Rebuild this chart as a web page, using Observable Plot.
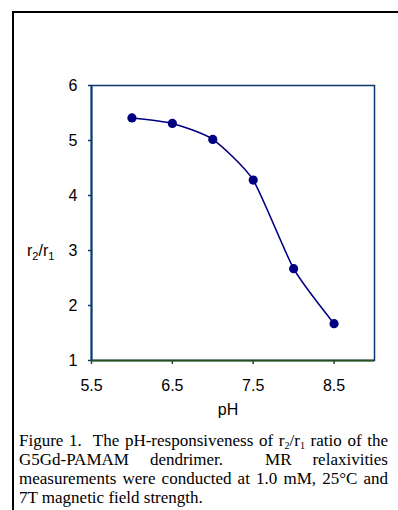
<!DOCTYPE html>
<html>
<head>
<meta charset="utf-8">
<script src="https://cdn.jsdelivr.net/npm/d3@7"></script>
<script src="https://cdn.jsdelivr.net/npm/@observablehq/plot@0.6"></script>
<style>
  html, body { margin: 0; padding: 0; background: #fff; }
  #page { position: relative; width: 398px; height: 510px; overflow: hidden; }
  #border { position: absolute; left: 12px; top: 11px; width: 400px; height: 520px;
            border-top: 2px solid #000; border-left: 2px solid #000; box-sizing: border-box; }
  #chart { position: absolute; left: 0; top: 0; }
  #caption { position: absolute; left: 19px; top: 431px; width: 369px;
             font-family: "Liberation Serif", "Times New Roman", serif; font-size: 17px;
             line-height: 19px; color: #000; }
  #caption .j { text-align: justify; text-align-last: justify; white-space: nowrap; }
  #caption sub { font-size: 10px; line-height: 0; vertical-align: -3px; }
</style>
</head>
<body>
<div id="page">
  <div id="border"></div>
  <div id="chart"></div>
  <div id="caption">
    <div class="j">Figure 1.&nbsp; The pH-responsiveness of r<sub>2</sub>/r<sub>1</sub> ratio of the</div>
    <div class="j">G5Gd-PAMAM dendrimer.&nbsp; MR relaxivities</div>
    <div class="j">measurements were conducted at 1.0 mM, 25°C and</div>
    <div>7T magnetic field strength.</div>
  </div>
</div>
<script>
const pH = [6.0, 6.5, 7.0, 7.5, 8.0, 8.5];
const ratio = [5.41, 5.31, 5.02, 4.28, 2.67, 1.67];
const xTicks = [5.5, 6.5, 7.5, 8.5];
const yTicks = [1, 2, 3, 4, 5, 6];

const data = pH.map((p, i) => ({pH: p, r: ratio[i]}));
const navy = "#000080";
const axisBlue = "#0b3a6e";
const axisGreen = "#27501f";

const chart = Plot.plot({
  width: 398,
  height: 420,
  marginLeft: 91,
  marginRight: 24,
  marginTop: 85,
  marginBottom: 60,
  style: {fontFamily: "'Liberation Sans', Arial, sans-serif", fontSize: "16px", color: "#000", background: "transparent"},
  x: {domain: [5.5, 9], label: null},
  y: {domain: [1, 6], label: null},
  marks: [
    Plot.frame({stroke: axisBlue, strokeWidth: 1.5}),
    Plot.axisX(xTicks, {tickSize: 4, tickPadding: 15, stroke: axisGreen, strokeWidth: 1.5, fill: "#000", fontSize: 16, label: null, tickFormat: d3.format(".1f")}),
    Plot.axisY(yTicks, {tickSize: 3, tickPadding: 11, stroke: axisBlue, strokeWidth: 1.5, fill: "#000", fontSize: 16, label: null, tickFormat: d3.format("d")}),
    Plot.ruleX([5.5], {stroke: axisBlue, strokeWidth: 2}),
    Plot.ruleY([1], {stroke: axisGreen, strokeWidth: 2}),
    Plot.line(data, {x: "pH", y: "r", stroke: navy, strokeWidth: 1.6, curve: d3.curveCardinal.tension(0.4)}),
    Plot.dot(data, {x: "pH", y: "r", r: 4.6, fill: navy, stroke: "none"}),
    Plot.text(["pH"], {frameAnchor: "bottom", dx: -5, dy: 54, fontSize: 16, fill: "#000"})
  ]
});
document.getElementById("chart").appendChild(chart);

// y-axis label with subscripts
const svg = d3.select(chart);
const t = svg.append("text")
  .attr("x", 27).attr("y", 256)
  .attr("text-anchor", "start")
  .attr("font-family", "'Liberation Sans', Arial, sans-serif")
  .attr("font-size", 16).attr("fill", "#000");
t.append("tspan").text("r");
t.append("tspan").attr("font-size", 11).attr("dy", 4).text("2");
t.append("tspan").attr("dy", -4).text("/r");
t.append("tspan").attr("font-size", 11).attr("dy", 4).text("1");
</script>
</body>
</html>
